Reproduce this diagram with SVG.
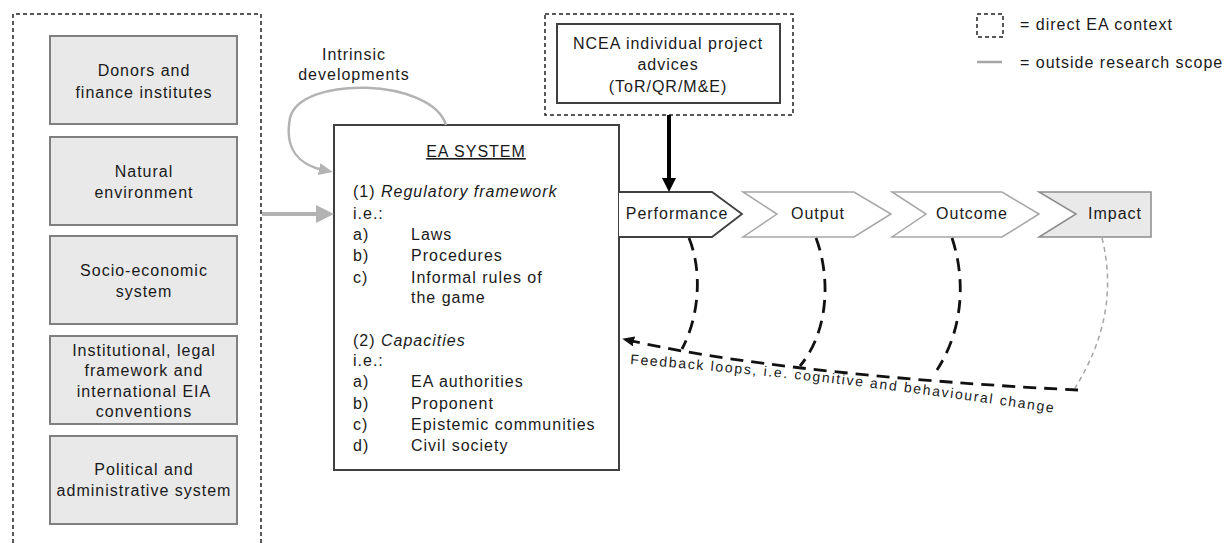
<svg xmlns="http://www.w3.org/2000/svg" width="1227" height="543" viewBox="0 0 1227 543">
<style>
.t{font-family:"Liberation Sans",Arial,sans-serif;font-size:16px;letter-spacing:1px;fill:#1a1a1a}
.m{text-anchor:middle}
.ctx{fill:#e9e9e9;stroke:#7f7f7f;stroke-width:2}
.dash{fill:none;stroke:#222;stroke-width:1.5;stroke-dasharray:4,3}
.fb{fill:none;stroke:#111;stroke-width:2.8;stroke-dasharray:13,8}
</style>
<defs>
<marker id="ahGreyBig" viewBox="0 0 18 18" refX="2" refY="9" markerWidth="18" markerHeight="18" markerUnits="userSpaceOnUse" orient="auto"><path d="M0,0 L18,9 L0,18 z" fill="#b3b3b3"/></marker>
<marker id="ahGrey" viewBox="0 0 14 12" refX="4" refY="6" markerWidth="14" markerHeight="12" markerUnits="userSpaceOnUse" orient="auto"><path d="M0,0 L14,6 L0,12 z" fill="#b3b3b3"/></marker>
<marker id="ahBlack" viewBox="0 0 14 14" refX="2" refY="7" markerWidth="14" markerHeight="14" markerUnits="userSpaceOnUse" orient="auto"><path d="M0,0 L14,7 L0,14 z" fill="#000"/></marker>
<marker id="ahFb" viewBox="0 0 12 10" refX="2" refY="5" markerWidth="12" markerHeight="10" markerUnits="userSpaceOnUse" orient="auto"><path d="M0,0 L12,5 L0,10 z" fill="#111"/></marker>
</defs>
<rect width="1227" height="543" fill="#fff"/>

<g id="context-frame"><path class="dash" d="M13,543 V14 H261 V543"/></g>

<g id="donors"><rect class="ctx" x="50" y="36" width="187" height="88"/>
<text class="t m" x="144" y="76">Donors and</text><text class="t m" x="144" y="98">finance institutes</text></g>
<g id="natural"><rect class="ctx" x="50" y="137" width="187" height="88"/>
<text class="t m" x="144" y="177">Natural</text><text class="t m" x="144" y="198">environment</text></g>
<g id="socio"><rect class="ctx" x="50" y="236" width="187" height="88"/>
<text class="t m" x="144" y="276">Socio-economic</text><text class="t m" x="144" y="297">system</text></g>
<g id="institutional"><rect class="ctx" x="50" y="336" width="187" height="88"/>
<text class="t m" x="144" y="356">Institutional, legal</text><text class="t m" x="144" y="376">framework and</text><text class="t m" x="144" y="397">international EIA</text><text class="t m" x="144" y="417">conventions</text></g>
<g id="political"><rect class="ctx" x="50" y="436" width="187" height="88"/>
<text class="t m" x="144" y="475">Political and</text><text class="t m" x="144" y="496">administrative system</text></g>

<g id="intrinsic-label"><text class="t m" x="354" y="60">Intrinsic</text><text class="t m" x="354" y="80">developments</text></g>

<g id="ea-system">
<rect x="334" y="125" width="285" height="345" fill="#fff" stroke="#404040" stroke-width="2"/>
<text class="t m" x="476" y="157" text-decoration="underline">EA SYSTEM</text>
<text class="t" x="353" y="197">(1) <tspan font-style="italic">Regulatory framework</tspan></text>
<text class="t" x="353" y="219">i.e.:</text>
<text class="t" x="353" y="240">a)</text><text class="t" x="411" y="240">Laws</text>
<text class="t" x="353" y="261">b)</text><text class="t" x="411" y="261">Procedures</text>
<text class="t" x="353" y="283">c)</text><text class="t" x="411" y="283">Informal rules of</text>
<text class="t" x="411" y="303">the game</text>
<text class="t" x="353" y="346">(2) <tspan font-style="italic">Capacities</tspan></text>
<text class="t" x="353" y="366">i.e.:</text>
<text class="t" x="353" y="387">a)</text><text class="t" x="411" y="387">EA authorities</text>
<text class="t" x="353" y="409">b)</text><text class="t" x="411" y="409">Proponent</text>
<text class="t" x="353" y="430">c)</text><text class="t" x="411" y="430">Epistemic communities</text>
<text class="t" x="353" y="451">d)</text><text class="t" x="411" y="451">Civil society</text>
</g>

<g id="ncea">
<rect class="dash" x="545" y="14" width="248" height="101"/>
<rect x="557" y="24" width="223" height="79" fill="#fff" stroke="#404040" stroke-width="2"/>
<text class="t m" x="668" y="49">NCEA individual project</text>
<text class="t m" x="668" y="70">advices</text>
<text class="t m" x="668" y="92">(ToR/QR/M&amp;E)</text>
</g>

<g id="performance"><path d="M619,192 H712 L742,214 L712,237 H619" fill="#fff" stroke="#404040" stroke-width="1.8"/>
<text class="t m" x="677" y="219">Performance</text></g>
<g id="output"><path d="M743,192 H854 L891,214 L854,237 H743 L777,214 Z" fill="#fff" stroke="#a6a6a6" stroke-width="1.5"/>
<text class="t m" x="818" y="219">Output</text></g>
<g id="outcome"><path d="M892,192 H1002 L1039,214 L1002,237 H892 L926,214 Z" fill="#fff" stroke="#a6a6a6" stroke-width="1.5"/>
<text class="t m" x="972" y="219">Outcome</text></g>
<g id="impact"><path d="M1039,192 H1151 V237 H1039 L1076,214 Z" fill="#e9e9e9" stroke="#8c8c8c" stroke-width="1.5"/>
<text class="t m" x="1115" y="219">Impact</text></g>

<g id="legend">
<rect class="dash" x="977" y="14" width="26" height="23"/>
<text class="t" x="1020" y="30">= direct EA context</text>
<line x1="977" y1="62" x2="1002" y2="62" stroke="#a6a6a6" stroke-width="2.5"/>
<text class="t" x="1020" y="68">= outside research scope</text>
</g>

<g id="connectors">
<path d="M262,214 H318" stroke="#b3b3b3" stroke-width="4" fill="none" marker-end="url(#ahGreyBig)"/>
<path d="M446,125 C432,78 300,75 290,118 C284,150 300,165 323,170" stroke="#b3b3b3" stroke-width="2.5" fill="none" marker-end="url(#ahGrey)"/>
<path d="M669,115 V180" stroke="#000" stroke-width="4" fill="none" marker-end="url(#ahBlack)"/>
<path class="fb" d="M689,238 C702,270 700,315 682,349"/>
<path class="fb" d="M816,238 C830,275 830,330 800,366"/>
<path class="fb" d="M952,238 C966,280 963,330 937,370"/>
<path d="M1102,238 C1115,290 1105,340 1075,388" fill="none" stroke="#a6a6a6" stroke-width="1.5" stroke-dasharray="5,4"/>
<path class="fb" d="M1078,390 C950,384 750,368 632,341" marker-end="url(#ahFb)"/>
<path id="fbText" d="M630,364 Q840,380 1055,413" fill="none"/>
<text class="t" style="font-size:14px;letter-spacing:0"><textPath href="#fbText" textLength="426" lengthAdjust="spacing">Feedback loops, i.e. cognitive and behavioural change</textPath></text>
</g>
</svg>
